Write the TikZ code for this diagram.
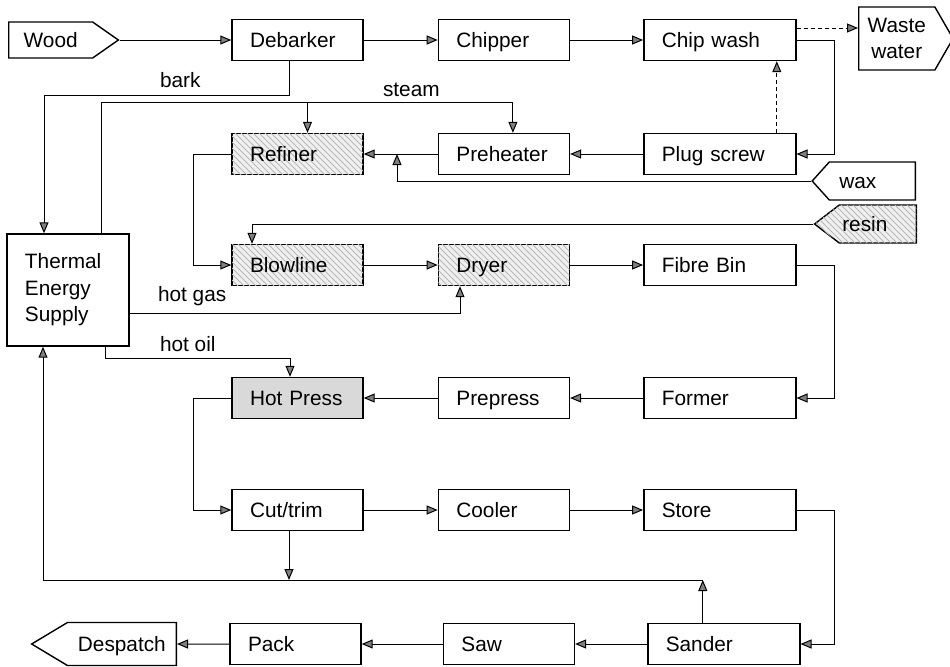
\documentclass[tikz,border=0pt]{standalone}
\usepackage{fontspec}
\setmainfont{Liberation Sans}
\usetikzlibrary{arrows.meta,positioning,calc,shapes.symbols,patterns}

\begin{document}
\begin{tikzpicture}[
  x=0.5pt, y=-0.5pt,
  >={Triangle[length=5.5pt,width=4.5pt,fill=gray]},
  node distance=37pt,
  every node/.style={font=\fontsize{10.4}{13.25}\selectfont},
  stagebox/.style={draw, line width=0.7pt, align=left, text width=47.5pt, inner xsep=9pt, inner ysep=0pt, minimum height=20.5pt},
  stage/.style={stagebox, text height=7.6pt, text depth=0.3pt},
  widestage/.style={stage, text width=58pt},
  hatched/.style={fill=gray!12, postaction={pattern=north west lines, pattern color=gray!55}},
  pressed/.style={fill=gray!30},
  ioport/.style={draw, line width=0.7pt, shape=signal, inner ysep=0pt, text height=7.6pt, text depth=0.3pt},
  flow/.style={->, line width=0.5pt},
  seep/.style={flow, dash pattern=on 2pt off 1.5pt}
]
\useasboundingbox (0,0) rectangle (950,666);

\node[ioport, signal to=east, signal pointer angle=70, inner xsep=7.5pt, minimum height=18pt, anchor=west] (wood) at (8,40) {Wood};
\node[stage] (debarker) at (297.5,40) {Debarker};
\node[stage, right=of debarker] (chipper) {Chipper};
\node[widestage, right=36.5pt of chipper] (chipwash) {Chip wash};
\node[draw, line width=0.7pt, shape=signal, signal to=east, signal pointer angle=120, inner xsep=4.5pt, inner ysep=0pt, minimum height=31.5pt, align=center, anchor=west] (waste) at (858,38.5) {Waste\\water};

\node[stage, hatched] (refiner) at (297.5,154) {Refiner};
\node[stage, right=of refiner] (preheater) {Preheater};
\node[widestage, right=36.5pt of preheater] (plug) {Plug screw};
\node[ioport, signal to=west, signal pointer angle=96, inner xsep=5pt, text width=33pt, align=left, minimum height=19pt, anchor=east] (wax) at (916,181) {wax};
\node[ioport, hatched, signal to=west, signal pointer angle=75, inner xsep=1.5pt, text width=35.5pt, align=left, minimum height=19pt, anchor=east] (resin) at (917,224) {resin};

\node[stagebox, text width=43pt, minimum height=56pt] (therm) at (68,290) {Thermal\\Energy\\Supply};

\node[stage, hatched] (blowline) at (297.5,265) {Blowline};
\node[stage, hatched, right=of blowline] (dryer) {Dryer};
\node[widestage, right=36.5pt of dryer] (fibrebin) {Fibre Bin};

\node[stage, pressed] (hotpress) at (297.5,398) {Hot Press};
\node[stage, right=of hotpress] (prepress) {Prepress};
\node[widestage, right=36.5pt of prepress] (former) {Former};

\node[stage] (cut) at (297.5,510) {Cut/trim};
\node[stage, right=of cut] (cooler) {Cooler};
\node[widestage, right=36.5pt of cooler] (store) {Store};

\node[stage] (pack) at (295.5,644) {Pack};
\node[stage, right=40.5pt of pack] (saw) {Saw};
\node[widestage, right=36pt of saw] (sander) {Sander};
\node[ioport, signal to=west, signal pointer angle=62, inner xsep=5.25pt, minimum height=21.5pt, anchor=east] (despatch) at (177,644) {Despatch};

\node[anchor=west] (barklbl) at (153,80) {bark};
\node[anchor=west] (steamlbl) at (376,90) {steam};
\node[anchor=west] (gaslbl) at (151,296) {hot gas};
\node[anchor=west] (oillbl) at (153,344) {hot oil};

\draw[flow] (wood) -- (debarker);
\draw[flow] (debarker) -- (chipper);
\draw[flow] (chipper) -- (chipwash);
\draw[seep] ([yshift=6pt]chipwash.east) -- ([yshift=6pt]chipwash.east -| waste.west);
\draw[flow] (chipwash.east) -- ++(38,0) |- (plug.east);
\draw[seep] ([xshift=28.5pt]plug.north) -- ([xshift=28.5pt]chipwash.south);
\draw[flow] (plug) -- (preheater);
\draw[flow] (preheater) -- (refiner);
\coordinate (waxjoin) at (397,154);
\draw[flow] (wax.west) -| (waxjoin);
\draw[flow] (resin.west) -| ([xshift=-22.75pt]blowline.north);
\coordinate (barkturn) at (44,95);
\draw[flow] ([xshift=-4.25pt]debarker.south) |- (barkturn) -- (barkturn |- therm.north);
\coordinate (steamturn) at (101,102);
\draw[flow] (steamturn |- therm.north) -- (steamturn) -| ([xshift=4.5pt]preheater.north);
\draw[flow] ([xshift=5pt]refiner.north |- steamturn) -- ([xshift=5pt]refiner.north);
\draw[flow] (refiner.west) -- ++(-38,0) |- (blowline.west);
\draw[flow] (blowline) -- (dryer);
\draw[flow] (dryer) -- (fibrebin);
\draw[flow] (fibrebin.east) -- ++(38,0) |- (former.east);
\coordinate (gasturn) at (460,313);
\draw[flow] (therm.east |- gasturn) -- (gasturn) -- (gasturn |- dryer.south);
\coordinate (oilturn) at (105,358);
\draw[flow] (oilturn |- therm.south) -- (oilturn) -| ([xshift=-3.75pt]hotpress.north);
\draw[flow] (former) -- (prepress);
\draw[flow] (prepress) -- (hotpress);
\draw[flow] (hotpress.west) -- ++(-38,0) |- (cut.west);
\draw[flow] (cut) -- (cooler);
\draw[flow] (cooler) -- (store);
\draw[flow] (store.east) -- ++(38,0) |- (sander.east);
\coordinate (returnturn) at (43,580);
\draw[flow] ([xshift=-4.25pt]cut.south) -- ([xshift=-4.25pt]cut.south |- returnturn);
\draw[flow] ([xshift=-10.5pt]sander.north) -- ([xshift=-10.5pt]sander.north |- returnturn);
\draw[flow] ([xshift=-10.5pt]sander.north |- returnturn) -- (returnturn) -- (returnturn |- therm.south);
\draw[flow] (sander) -- (saw);
\draw[flow] (saw) -- (pack);
\draw[flow] (pack) -- (despatch);
\end{tikzpicture}
\end{document}
